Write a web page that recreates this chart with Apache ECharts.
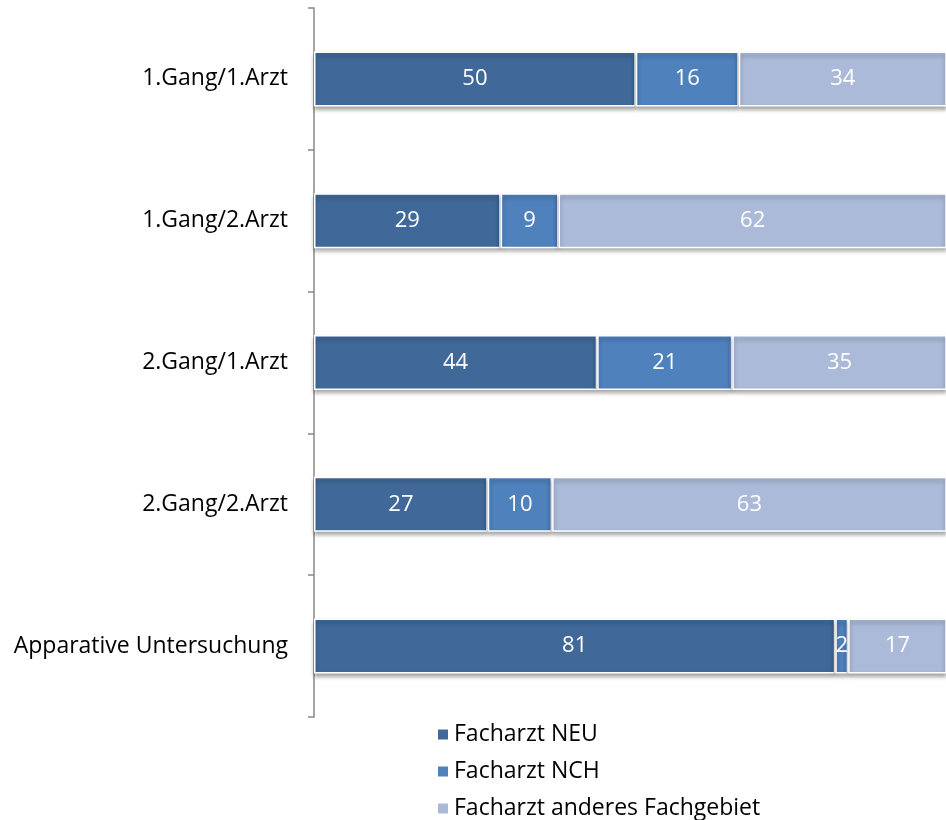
<!DOCTYPE html>
<html><head><meta charset="utf-8">
<script src="https://cdn.jsdelivr.net/npm/echarts@6/dist/echarts.min.js"></script>
<style>html,body{margin:0;padding:0;background:#fff}#c{width:946px;height:820px}</style>
</head><body><div id="c"></div>
<script>
const categories = ['1.Gang/1.Arzt','1.Gang/2.Arzt','2.Gang/1.Arzt','2.Gang/2.Arzt','Apparative Untersuchung'];
const seriesNames = ['Facharzt NEU','Facharzt NCH','Facharzt anderes Fachgebiet'];
const neu = [50, 29, 44, 27, 81];
const nch = [16, 9, 21, 10, 2];
const andere = [34, 62, 35, 63, 17];
const colors = ['#40699A','#4F81BD','#AABAD8'];
const font = '"Open Sans", "Noto Sans", sans-serif';
const chart = echarts.init(document.getElementById('c'));
const mk = (name, data, color) => ({
  name, type: 'bar', stack: 'total', data, barWidth: 55,
  itemStyle: {color, borderColor: '#fff', borderWidth: 1.5, shadowColor: 'rgba(0,0,0,0.35)', shadowBlur: 4, shadowOffsetY: 3},
  label: {show: true, position: 'inside', color: '#fff', fontSize: 22, fontFamily: font},
  emphasis: {disabled: true}
});
chart.setOption({
  animation: false,
  grid: {left: 314, right: 0, top: 8, bottom: 103},
  legend: {orient: 'vertical', left: 436, top: 723, height: 140, padding: 0, itemWidth: 12, itemHeight: 12, itemGap: 14,
    icon: 'rect', textStyle: {fontSize: 23, fontFamily: font, color: '#000'}, data: seriesNames},
  xAxis: {type: 'value', min: 0, max: 98.2, show: false},
  yAxis: {type: 'category', data: categories, inverse: true,
    axisLine: {lineStyle: {color: '#888', width: 1.5}},
    axisTick: {show: true, length: 6, lineStyle: {color: '#888', width: 1.5}},
    axisLabel: {fontSize: 23, fontFamily: font, color: '#000', margin: 26}},
  series: [mk(seriesNames[0], neu, colors[0]), mk(seriesNames[1], nch, colors[1]), mk(seriesNames[2], andere, colors[2])]
});
</script></body></html>
